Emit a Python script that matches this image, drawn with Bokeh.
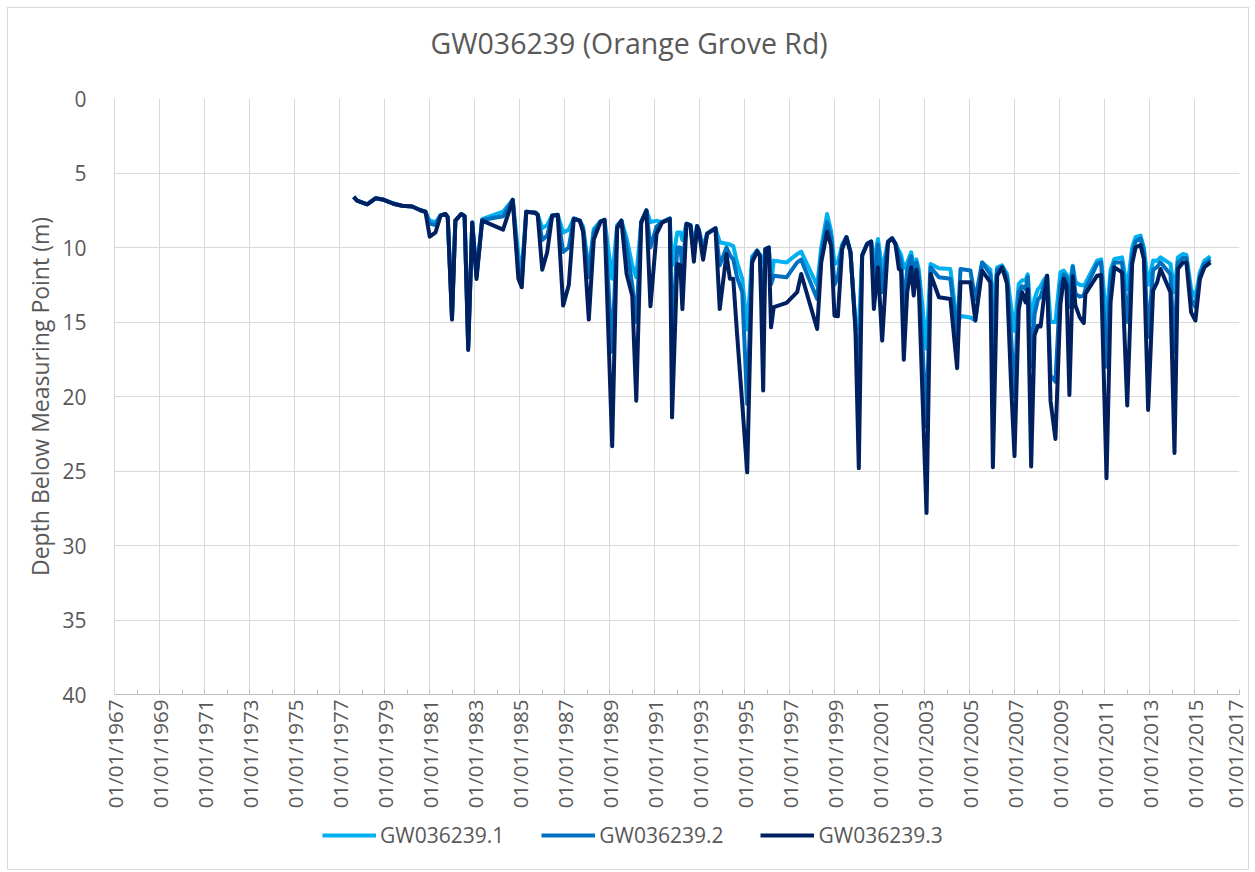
import math
from bokeh.plotting import figure
from bokeh.layouts import column
from bokeh.models import Range1d, FixedTicker, Legend, LegendItem, ColumnDataSource, Title
from bokeh.embed import file_html
from bokeh.resources import INLINE

# ---------------- data (decimal years, depth below measuring point in m) -------------
dates = [1977.63, 1977.78, 1978.23, 1978.60, 1978.97, 1979.41, 1979.78, 1980.23, 1980.60, 1980.82,
         1981.01, 1981.27, 1981.49, 1981.71, 1981.81, 1982.00, 1982.15, 1982.41, 1982.56, 1982.72,
         1982.90, 1983.09, 1983.34, 1984.27, 1984.70, 1984.95, 1985.10, 1985.30, 1985.71, 1985.81,
         1986.01, 1986.23, 1986.45, 1986.70, 1986.94, 1987.19, 1987.41, 1987.68, 1987.83, 1988.08,
         1988.30, 1988.60, 1988.78, 1989.12, 1989.34, 1989.53, 1989.76, 1990.01, 1990.19, 1990.41,
         1990.64, 1990.82, 1991.09, 1991.34, 1991.68, 1991.78, 1992.01, 1992.15, 1992.24, 1992.42,
         1992.60, 1992.75, 1992.89, 1992.97, 1993.16, 1993.34, 1993.71, 1993.90, 1994.20, 1994.35,
         1994.50, 1994.67, 1994.90, 1995.12, 1995.34, 1995.56, 1995.68, 1995.74, 1995.83, 1995.93,
         1996.08, 1996.18, 1996.30, 1996.87, 1997.34, 1997.52, 1998.23, 1998.41, 1998.67, 1998.85,
         1999.00, 1999.15, 1999.34, 1999.53, 1999.71, 1999.93, 2000.08, 2000.23, 2000.45, 2000.63,
         2000.75, 2000.93, 2001.12, 2001.38, 2001.56, 2001.71, 2001.86, 2001.96, 2002.08, 2002.23,
         2002.41, 2002.52, 2002.64, 2002.75, 2003.09, 2003.27, 2003.64, 2004.15, 2004.45, 2004.60,
         2005.04, 2005.26, 2005.56, 2005.93, 2006.04, 2006.23, 2006.45, 2006.67, 2006.85, 2007.00,
         2007.19, 2007.34, 2007.49, 2007.59, 2007.74, 2007.89, 2008.04, 2008.16, 2008.30, 2008.45,
         2008.60, 2008.82, 2009.04, 2009.19, 2009.31, 2009.44, 2009.59, 2009.71, 2009.90, 2010.08,
         2010.15, 2010.67, 2010.85, 2011.09, 2011.27, 2011.44, 2011.78, 2012.01, 2012.23, 2012.38,
         2012.60, 2012.75, 2012.94, 2013.16, 2013.34, 2013.49, 2013.93, 2014.11, 2014.26, 2014.49,
         2014.64, 2014.85, 2015.04, 2015.24, 2015.44, 2015.71]

gw1 = [6.60, 6.85, 7.10, 6.70, 6.80, 7.05, 7.20, 7.25, 7.50, 7.60,
       8.20, 8.30, 7.85, 7.75, 7.95, 14.60, 8.20, 7.75, 7.90, 16.60,
       8.30, 11.80, 8.10, 7.60, 6.80, 10.50, 11.50, 7.60, 7.65, 7.80,
       8.70, 8.50, 7.85, 7.80, 9.00, 8.80, 8.05, 8.20, 8.60, 11.50,
       8.76, 8.25, 8.15, 12.10, 8.50, 8.20, 9.38, 11.20, 12.00, 8.30,
       7.50, 8.30, 8.20, 8.30, 8.05, 11.20, 9.00, 9.00, 9.50, 8.40,
       8.50, 10.00, 8.55, 8.80, 10.00, 9.05, 8.70, 9.65, 9.75, 9.80,
       9.90, 11.00, 12.10, 15.50, 10.60, 10.20, 10.50, 10.80, 11.00, 10.10,
       10.00, 12.45, 10.88, 11.00, 10.44, 10.28, 12.56, 10.00, 7.75, 8.90,
       11.10, 11.00, 9.80, 9.30, 10.30, 15.00, 15.50, 10.50, 9.75, 9.60,
       11.00, 9.43, 11.50, 9.60, 9.38, 9.75, 10.20, 10.50, 11.40, 11.00,
       10.32, 11.30, 10.80, 11.50, 16.80, 11.10, 11.40, 11.44, 15.20, 14.60,
       14.70, 14.90, 11.00, 11.50, 14.00, 11.33, 11.20, 11.80, 14.00, 15.60,
       12.45, 12.20, 12.20, 11.80, 15.00, 13.45, 12.80, 12.60, 12.20, 11.90,
       15.00, 15.00, 11.67, 11.55, 11.80, 12.50, 11.22, 12.34, 12.50, 12.56,
       12.40, 10.88, 10.80, 15.00, 11.50, 10.77, 10.66, 12.80, 10.00, 9.30,
       9.20, 10.00, 12.50, 10.88, 10.90, 10.66, 11.10, 13.00, 10.66, 10.44,
       10.50, 12.80, 13.35, 11.67, 10.88, 10.60]

gw2 = [6.60, 6.85, 7.10, 6.70, 6.80, 7.05, 7.20, 7.25, 7.50, 7.60,
       8.40, 8.50, 7.85, 7.75, 7.95, 14.70, 8.20, 7.75, 7.90, 16.70,
       8.30, 11.90, 8.15, 7.90, 6.80, 11.50, 12.20, 7.60, 7.65, 7.80,
       9.50, 9.20, 7.85, 7.80, 10.30, 10.00, 8.05, 8.20, 8.80, 12.00,
       9.00, 8.25, 8.15, 17.00, 8.60, 8.20, 10.00, 12.50, 15.00, 8.30,
       7.50, 10.00, 8.60, 8.30, 8.05, 16.10, 10.00, 10.00, 11.50, 8.40,
       8.50, 10.50, 8.55, 8.80, 10.40, 9.05, 8.70, 11.20, 10.00, 10.50,
       10.80, 12.00, 13.00, 20.50, 10.80, 10.20, 10.50, 12.00, 14.00, 10.10,
       10.00, 12.45, 11.90, 12.00, 11.00, 10.82, 13.45, 10.50, 8.31, 9.30,
       12.50, 12.00, 9.90, 9.30, 10.30, 15.30, 19.00, 10.50, 9.75, 9.60,
       12.50, 9.80, 13.00, 9.60, 9.38, 9.75, 10.50, 11.00, 14.00, 11.50,
       10.60, 12.00, 11.00, 12.00, 22.00, 11.33, 12.00, 12.10, 16.00, 11.44,
       11.55, 13.50, 11.00, 11.80, 17.00, 11.50, 11.30, 12.00, 16.00, 20.00,
       13.00, 12.60, 12.80, 12.00, 18.00, 14.50, 13.50, 13.30, 12.60, 11.90,
       18.60, 19.00, 12.50, 11.80, 12.00, 14.00, 11.30, 13.12, 13.30, 13.23,
       12.80, 11.10, 11.00, 18.00, 12.00, 11.00, 11.00, 15.00, 10.50, 9.60,
       9.40, 10.30, 16.00, 11.50, 11.30, 11.00, 11.80, 17.00, 11.00, 10.70,
       10.70, 13.45, 14.00, 11.90, 11.10, 10.80]

gw3 = [6.60, 6.85, 7.10, 6.70, 6.80, 7.08, 7.20, 7.25, 7.50, 7.60,
       9.27, 8.98, 7.86, 7.75, 7.98, 14.84, 8.20, 7.75, 7.90, 16.88,
       8.36, 12.11, 8.20, 8.80, 6.80, 12.10, 12.67, 7.60, 7.68, 7.82,
       11.49, 10.32, 7.86, 7.82, 13.90, 12.52, 8.09, 8.20, 8.98, 14.84,
       9.47, 8.27, 8.15, 23.34, 8.71, 8.20, 11.78, 13.23, 20.28, 8.31,
       7.53, 13.95, 9.09, 8.31, 8.09, 21.40, 11.10, 11.20, 14.13, 8.42,
       8.53, 10.95, 8.58, 8.87, 10.82, 9.09, 8.71, 14.13, 10.44, 12.10,
       12.10, 15.80, 20.50, 25.09, 11.00, 10.26, 10.55, 13.57, 19.60, 10.10,
       10.00, 15.36, 14.00, 13.72, 13.00, 11.78, 15.47, 11.00, 8.94, 9.88,
       14.58, 14.62, 10.10, 9.32, 10.32, 15.47, 24.82, 10.55, 9.76, 9.60,
       14.13, 11.33, 16.25, 9.65, 9.38, 9.76, 11.44, 11.55, 17.53, 13.00,
       11.33, 13.23, 11.50, 12.80, 27.82, 11.78, 13.34, 13.45, 18.10, 12.34,
       12.34, 14.90, 11.55, 12.34, 24.75, 11.90, 11.33, 12.45, 19.27, 24.00,
       14.13, 13.00, 13.68, 12.80, 24.69, 15.90, 15.25, 15.30, 13.45, 11.90,
       20.28, 22.85, 13.80, 12.10, 12.56, 19.90, 11.93, 13.90, 14.69, 15.07,
       13.12, 11.89, 11.85, 25.49, 13.68, 11.33, 11.67, 20.60, 11.10, 10.00,
       9.83, 10.77, 20.90, 12.90, 12.34, 11.44, 13.00, 23.79, 11.44, 11.00,
       11.00, 14.35, 14.90, 12.11, 11.33, 11.00]

series_names = ["GW036239.1", "GW036239.2", "GW036239.3"]
series_colors = ["#00B0F0", "#0070C0", "#002060"]
x_tick_years = list(range(1967, 2018, 2))
x_minor_years = list(range(1967, 2018))
x_tick_labels = {y: "01/01/%d" % y for y in x_tick_years}
y_ticks = [0, 5, 10, 15, 20, 25, 30, 35, 40]

FONT = "Open Sans"
TXT = "#595959"

# ---------------- main chart ----------------
p = figure(frame_width=1125, frame_height=596, output_backend="svg", toolbar_location=None,
           x_range=Range1d(1967, 2017), y_range=Range1d(40, 0),
           min_border_left=106, min_border_right=9, min_border_top=89, min_border_bottom=120,
           background_fill_color="white", border_fill_color="white")
p.outline_line_color = None

p.title.text = "GW036239 (Orange Grove Rd)"
p.title.align = "left"
p.title.offset = 316
p.title.standoff = 27
p.title.text_font = FONT
p.title.text_font_size = "28.5px"
p.title.text_font_style = "normal"
p.title.text_color = TXT
# blank gap between the title and the plot area
p.add_layout(Title(text=" ", text_font_size="1px", standoff=20), "above")

p.xgrid.ticker = FixedTicker(ticks=x_tick_years)
p.ygrid.ticker = FixedTicker(ticks=y_ticks)
for g in (p.xgrid, p.ygrid):
    g.grid_line_color = "#D9D9D9"
    g.grid_line_width = 1

xa = p.xaxis[0]
xa.ticker = FixedTicker(ticks=x_tick_years, minor_ticks=x_minor_years)
xa.major_label_overrides = x_tick_labels
xa.major_label_orientation = math.pi / 2
xa.axis_line_color = "#BFBFBF"
xa.major_tick_line_color = "#BFBFBF"
xa.minor_tick_line_color = "#BFBFBF"
xa.major_tick_in = 5
xa.major_tick_out = 0
xa.minor_tick_in = 5
xa.minor_tick_out = 0
xa.major_label_standoff = 5
xa.major_label_text_font = FONT
xa.major_label_text_font_size = "20.5px"
xa.major_label_text_color = TXT

ya = p.yaxis[0]
ya.ticker = FixedTicker(ticks=y_ticks)
ya.axis_line_color = "#D9D9D9"
ya.major_tick_line_color = None
ya.minor_tick_line_color = None
ya.major_label_standoff = 22
ya.major_label_text_font = FONT
ya.major_label_text_font_size = "21px"
ya.major_label_text_color = TXT
ya.axis_label = "Depth Below Measuring Point (m)"
ya.axis_label_text_font = FONT
ya.axis_label_text_font_size = "23px"
ya.axis_label_text_font_style = "normal"
ya.axis_label_text_color = TXT
ya.axis_label_standoff = 3

for name, col, vals in zip(series_names, series_colors, [gw1, gw2, gw3]):
    src = ColumnDataSource(dict(x=dates, y=vals))
    p.line("x", "y", source=src, line_color=col, line_width=4, line_join="round")

# ---------------- legend strip under the chart ----------------
lf = figure(width=1240, height=40, output_backend="svg", toolbar_location=None,
            x_axis_type=None, y_axis_type=None, title_location=None,
            x_range=Range1d(0, 1), y_range=Range1d(0, 1), min_border=0,
            background_fill_color="white", border_fill_color="white")
lf.outline_line_color = None
items = []
for name, col in zip(series_names, series_colors):
    # legend key only: a single undefined point draws nothing in the strip itself
    key = lf.line(x=[0.5], y=[float("nan")], line_color=col, line_width=4)
    items.append(LegendItem(label=name, renderers=[key]))
legend = Legend(items=items, orientation="horizontal", location=(208, 5),
                label_text_font=FONT, label_text_font_size="21px", label_text_color=TXT,
                glyph_width=54, glyph_height=20, label_standoff=4, spacing=37,
                padding=0, margin=0, border_line_color=None, background_fill_alpha=0)
lf.add_layout(legend, "center")

layout = column(p, lf, spacing=0,
                styles={"border": "1px solid #D9D9D9", "margin-left": "7px", "margin-top": "7px",
                        "padding-bottom": "15px", "background-color": "white"})

open("out.html", "w").write(file_html(layout, INLINE))
